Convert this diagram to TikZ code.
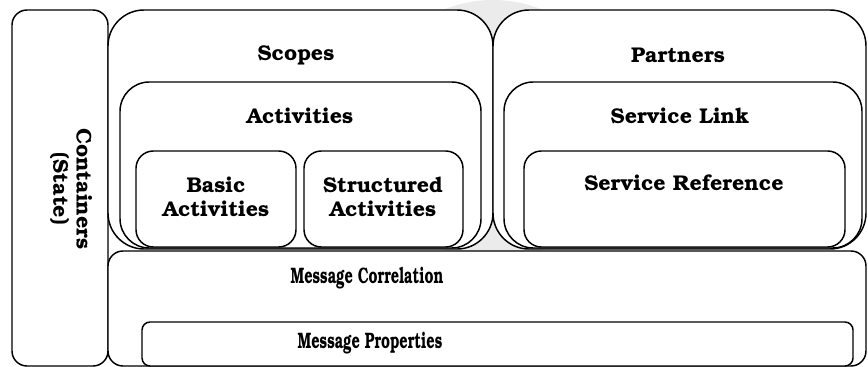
\documentclass[tikz,border=0pt]{standalone}
\usepackage[T1]{fontenc}
\usepackage{bookman}
\usepackage{graphicx}

\tikzset{every picture/.style={line width=0.75pt}}
\tikzset{
  box/.style={draw, fill=white, line width=1.1pt},
  lbl/.style={font=\bfseries\fontsize{16}{17.5}\selectfont, align=center, inner sep=0pt},
  narrow/.style={font=\bfseries\fontsize{16}{17.5}\selectfont, inner sep=0pt}
}
\newcommand{\squeeze}[1]{\scalebox{0.68}[1.05]{#1}}

\begin{document}
\begin{tikzpicture}[x=0.75pt,y=0.75pt,yscale=-1,xscale=1]
	\useasboundingbox (0,0) rectangle (868,367);

	% Background
	\fill [black!8] (493,130) circle [radius=130];

	% Rounded Rect
	\draw [box, rounded corners=11.25pt] (12,10) rectangle (108,366);
	% Rounded Rect
	\draw [box, rounded corners=27pt] (108,10) rectangle (493,249);
	% Rounded Rect
	\draw [box, rounded corners=27pt] (493,10) rectangle (866,249);
	% Rounded Rect
	\draw [box, rounded corners=22pt] (120,82) rectangle (481,248);
	% Rounded Rect
	\draw [box, rounded corners=13pt] (136,151) rectangle (296,247);
	% Rounded Rect
	\draw [box, rounded corners=13pt] (304,151) rectangle (463,247);
	% Rounded Rect
	\draw [box, rounded corners=22pt] (504,82) rectangle (862,248);
	% Rounded Rect
	\draw [box, rounded corners=13pt] (524,151) rectangle (845,247);
	% Rounded Rect
	\draw [box, rounded corners=11.25pt] (108,251) rectangle (866,366);
	% Rounded Rect
	\draw [box, rounded corners=6pt] (142,322) rectangle (853,366);

	% Text Node
	\node [lbl, rotate=-90] (containers) at (71,189) {Containers\\(State)};
	% Text Node
	\node [lbl] (scopes) at (296,55) {Scopes};
	% Text Node
	\node [lbl] (partners) at (678,55) {Partners};
	% Text Node
	\node [lbl] (activities) at (300,116) {Activities};
	% Text Node
	\node [lbl] (servicelink) at (680,116) {Service Link};
	% Text Node
	\node [lbl] (basic) at (216,197) {Basic\\Activities};
	% Text Node
	\node [lbl] (structured) at (383,197) {Structured\\Activities};
	% Text Node
	\node [lbl] (serviceref) at (684,183) {Service Reference};
	% Text Node
	\node [narrow] (msgcorr) at (367,278) {\squeeze{Message Correlation}};
	% Text Node
	\node [narrow] (msgprops) at (370,343) {\squeeze{Message Properties}};

\end{tikzpicture}
\end{document}
